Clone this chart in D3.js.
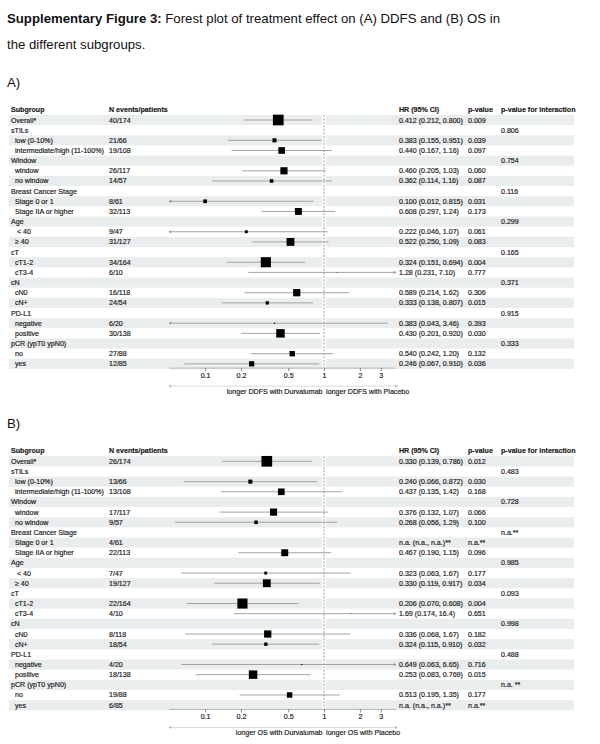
<!DOCTYPE html>
<html><head><meta charset="utf-8">
<script src="https://cdn.jsdelivr.net/npm/d3@7"></script>
<style>
body{margin:0;background:#fff}
svg{display:block}
text{font-family:"Liberation Sans",Arial,Helvetica,sans-serif;white-space:pre}
.tb{stroke:#1b1b1b;stroke-width:0.18px}
</style>
</head><body>
<svg id="c" width="600" height="744"></svg>
<script>
// ---------------- data ----------------
const headers = ["Subgroup","N events/patients","HR (95% CI)","p-value","p-value for interaction"];
const rowLabels = ["Overall*","sTILs","  low (0-10%)","  intermediate/high (11-100%)","Window","  window","  no window",
  "Breast Cancer Stage","  Stage 0 or 1","  Stage IIA or higher","Age","   < 40","  ≥ 40","cT","  cT1-2","  cT3-4",
  "cN","  cN0","  cN+","PD-L1","  negative","  positive","pCR (ypT0 ypN0)","  no","  yes"];
const patients = [174,null,66,108,null,117,57,null,61,113,null,47,127,null,164,10,null,118,54,null,20,138,null,88,85];

// Panel A: DDFS
const eventsA = [40,null,21,19,null,26,14,null,8,32,null,9,31,null,34,6,null,16,24,null,6,30,null,27,12];
const hrA = [0.412,null,0.383,0.440,null,0.460,0.362,null,0.100,0.608,null,0.222,0.522,null,0.324,1.28,null,0.589,0.333,null,0.383,0.430,null,0.540,0.246];
const loA = [0.212,null,0.155,0.167,null,0.205,0.114,null,0.012,0.297,null,0.046,0.250,null,0.151,0.231,null,0.214,0.138,null,0.043,0.201,null,0.242,0.067];
const hiA = [0.800,null,0.951,1.16,null,1.03,1.16,null,0.815,1.24,null,1.07,1.09,null,0.694,7.10,null,1.62,0.807,null,3.46,0.920,null,1.20,0.910];
const pA = ["0.009","","0.039","0.097","","0.060","0.087","","0.031","0.173","","0.061","0.083","","0.004","0.777","","0.306","0.015","","0.393","0.030","","0.132","0.036"];
const pIntA = ["","0.806","","","0.754","","","0.116","","","0.299","","","0.165","","","0.371","","","0.915","","","0.333","",""];

// Panel B: OS
const eventsB = [26,null,13,13,null,17,9,null,4,22,null,7,19,null,22,4,null,8,18,null,4,18,null,19,6];
const hrB = [0.330,null,0.240,0.437,null,0.376,0.268,null,null,0.467,null,0.323,0.330,null,0.206,1.69,null,0.336,0.324,null,0.649,0.253,null,0.513,null];
const loB = [0.139,null,0.066,0.135,null,0.132,0.056,null,null,0.190,null,0.063,0.119,null,0.070,0.174,null,0.068,0.115,null,0.063,0.083,null,0.195,null];
const hiB = [0.786,null,0.872,1.42,null,1.07,1.29,null,null,1.15,null,1.67,0.917,null,0.608,16.4,null,1.67,0.910,null,6.65,0.769,null,1.35,null];
const pB = ["0.012","","0.030","0.168","","0.066","0.100","","n.a.**","0.096","","0.177","0.034","","0.004","0.651","","0.182","0.032","","0.716","0.015","","0.177","n.a.**"];
const pIntB = ["","0.483","","","0.728","","","n.a.**","","","0.985","","","0.093","","","0.998","","","0.488","","","n.a. **","",""];

const xTicks = [0.1,0.2,0.5,1,2,3];
const xLimits = [0.05,4];
const arrowLabelsA = ["longer DDFS with Durvalumab","longer DDFS with Placebo"];
const arrowLabelsB = ["longer OS with Durvalumab","longer OS with Placebo"];

// ---------------- drawing ----------------
const svg = d3.select("#c");
const FS = 7.1, TXT = "#1b1b1b";
const colX = [11,109,399,468,501];
const shadeX0 = 9, shadeX1 = 574;
const rowH = 10.16;
const x = d3.scaleLog().domain(xLimits).range([169.3,395.7]);
const boxSide = d3.scaleLinear().domain([0,174]).range([0,10.7]);
const fmt = v => v < 1 ? d3.format(".3f")(v) : d3.format(".3r")(v);

// title
const t1 = svg.append("text").attr("x",7).attr("y",23).attr("font-size",13.2).attr("fill","#111");
t1.append("tspan").attr("font-weight","bold").text("Supplementary Figure 3:");
t1.append("tspan").text(" Forest plot of treatment effect on (A) DDFS and (B) OS in");
svg.append("text").attr("x",7).attr("y",49).attr("font-size",13.2).attr("fill","#111").text("the different subgroups.");

function panel(letter, letterY, top, events, hr, lo, hi, p, pint, arrowLabels){
  svg.append("text").attr("x",7).attr("y",letterY).attr("font-size",13.2).attr("fill","#111").text(letter);
  const g = svg.append("g");
  const headY = top;
  const row0 = top + 10.7;
  const yc = i => row0 + i*rowH;
  const n = rowLabels.length;
  const idx = d3.range(n);
  // shading
  g.selectAll("rect.sh").data(idx.filter(i=>i%2===0)).join("rect")
    .attr("x",shadeX0).attr("width",shadeX1-shadeX0)
    .attr("y",i=>yc(i)-rowH/2).attr("height",rowH).attr("fill","#eaeded");
  const refX = x(1);
  g.append("rect").attr("x",refX-2.2).attr("width",4.4).attr("y",yc(0)-rowH/2).attr("height",yc(n-1)-yc(0)+rowH).attr("fill","#fff");
  // headers
  headers.forEach((h,k)=>{
    g.append("text").attr("class","tb").attr("x",colX[k]).attr("y",headY+2.5).attr("font-size",FS).attr("font-weight","bold").attr("fill",TXT).text(h);
  });
  // text columns
  const put = (xx,y,s)=> g.append("text").attr("class","tb").attr("x",xx).attr("y",y).attr("font-size",FS).attr("fill",TXT).text(s);
  idx.forEach(i=>{
    const y = yc(i)+2.5;
    put(colX[0],y,rowLabels[i]);
    if(events[i]!=null) put(colX[1],y,events[i]+"/"+patients[i]);
    let hrTxt = "";
    if(hr[i]!=null) hrTxt = fmt(hr[i])+" ("+fmt(lo[i])+", "+fmt(hi[i])+")";
    else if(events[i]!=null) hrTxt = "n.a. (n.a., n.a.)**";
    if(hrTxt) put(colX[2],y,hrTxt);
    if(p[i]) put(colX[3],y,p[i]);
    if(pint[i]) put(colX[4],y,pint[i]);
  });
  const axisY = yc(n-1)+4.3;
  // reference line
  g.append("line").attr("x1",refX).attr("x2",refX).attr("y1",yc(0)-rowH/2).attr("y2",axisY)
    .attr("stroke","#777").attr("stroke-width",0.7).attr("stroke-dasharray","2,1.5");
  // CI lines and boxes
  const [dmin,dmax] = xLimits;
  idx.filter(i=>hr[i]!=null).forEach(i=>{
    const y = yc(i);
    const x1 = x(Math.max(lo[i],dmin)), x2 = x(Math.min(hi[i],dmax));
    g.append("line").attr("x1",x1).attr("x2",x2).attr("y1",y).attr("y2",y).attr("stroke","#9a9a9a").attr("stroke-width",0.9);
    if(lo[i]<dmin) g.append("path").attr("d",`M${x1+2},${y-1.2}L${x1},${y}L${x1+2},${y+1.2}`).attr("fill","none").attr("stroke","#777").attr("stroke-width",0.7);
    if(hi[i]>dmax) g.append("path").attr("d",`M${x2-2},${y-1.2}L${x2},${y}L${x2-2},${y+1.2}`).attr("fill","none").attr("stroke","#777").attr("stroke-width",0.7);
    const s = boxSide(patients[i]);
    g.append("rect").attr("x",x(hr[i])-s/2).attr("y",y-s/2).attr("width",s).attr("height",s).attr("fill","#000");
  });
  // axis
  const ax = g.append("g").attr("transform",`translate(0,${axisY})`)
    .call(d3.axisBottom(x).tickValues(xTicks).tickFormat(d3.format("")).tickSize(3).tickPadding(2));
  ax.select(".domain").attr("stroke","#aaa").attr("stroke-width",0.8).attr("d",`M${x.range()[0]},0H${x.range()[1]}`);
  ax.selectAll(".tick line").attr("stroke","#555").attr("stroke-width",0.7);
  ax.selectAll(".tick text").attr("class","tb").attr("font-size",FS).attr("fill",TXT).attr("font-family","Liberation Sans, Arial, sans-serif");
  // arrows
  const ay = axisY + 18;
  g.append("line").attr("x1",x.range()[0]).attr("x2",x.range()[1]+1.5).attr("y1",ay).attr("y2",ay).attr("stroke","#c8c8c8").attr("stroke-width",0.7);
  g.append("path").attr("d",`M${x.range()[0]+2},${ay-1}L${x.range()[0]},${ay}L${x.range()[0]+2},${ay+1}`).attr("fill","none").attr("stroke","#888").attr("stroke-width",0.6);
  g.append("path").attr("d",`M${x.range()[1]-0.5},${ay-1}L${x.range()[1]+1.5},${ay}L${x.range()[1]-0.5},${ay+1}`).attr("fill","none").attr("stroke","#888").attr("stroke-width",0.6);
  g.append("text").attr("class","tb").attr("x",refX-1.5).attr("y",ay+8).attr("text-anchor","end").attr("font-size",FS).attr("fill",TXT).text(arrowLabels[0]);
  g.append("text").attr("class","tb").attr("x",refX+2).attr("y",ay+8).attr("font-size",FS).attr("fill",TXT).text(arrowLabels[1]);
}

panel("A)", 87, 109.3, eventsA, hrA, loA, hiA, pA, pIntA, arrowLabelsA);
panel("B)", 428, 450.6, eventsB, hrB, loB, hiB, pB, pIntB, arrowLabelsB);
</script>
</body></html>
